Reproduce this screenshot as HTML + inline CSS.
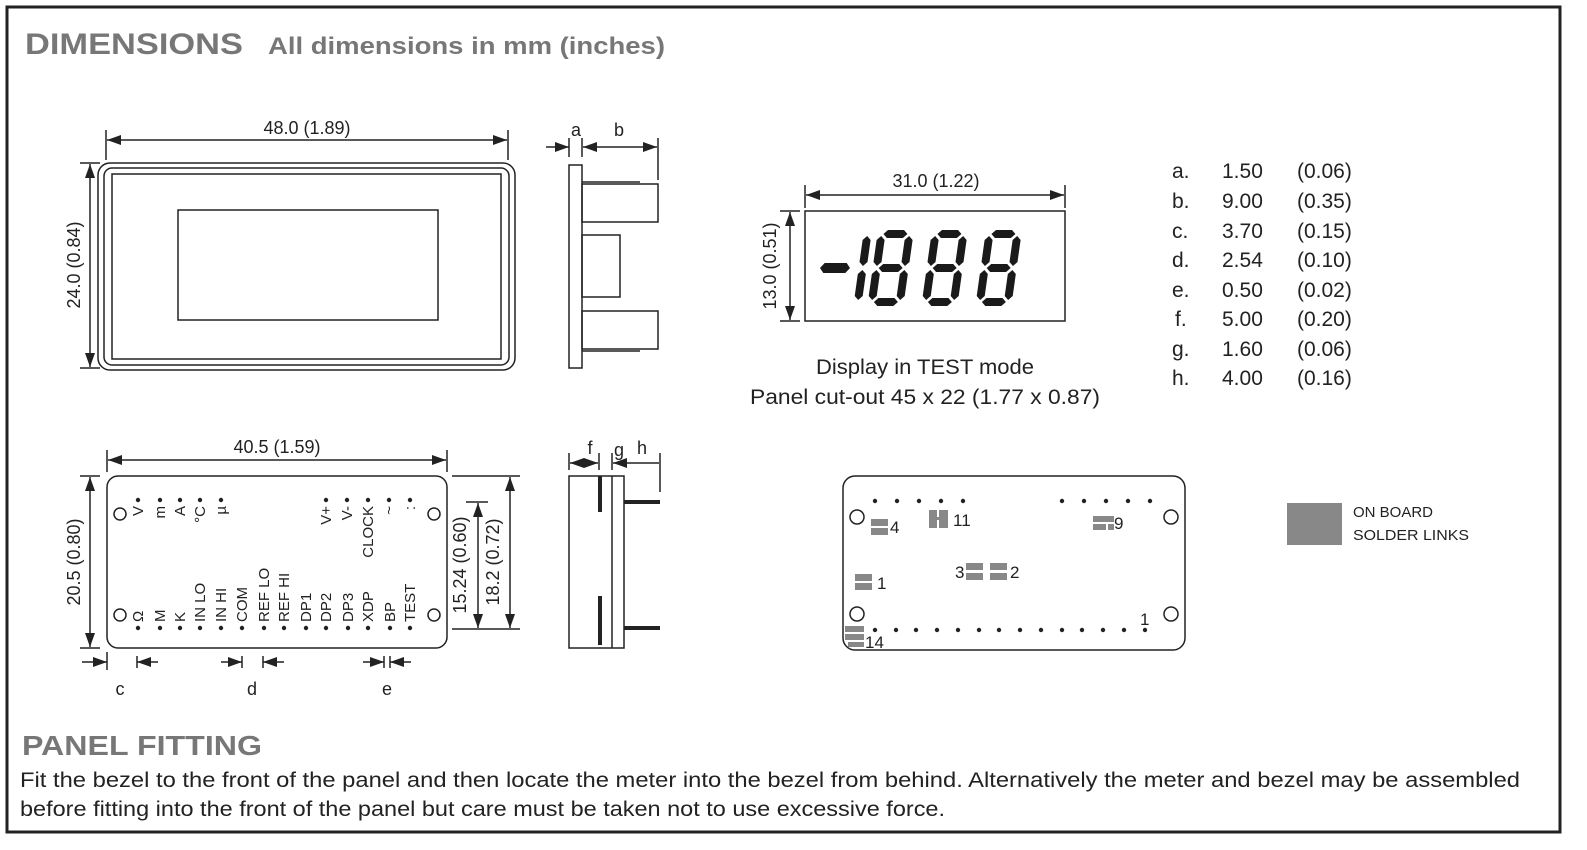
<!DOCTYPE html>
<html><head><meta charset="utf-8"><style>
body{margin:0;background:#fff;}
svg{display:block;}
text{font-family:"Liberation Sans",sans-serif;fill:#222;}
</style></head><body>
<svg width="1587" height="850" viewBox="0 0 1587 850" xmlns="http://www.w3.org/2000/svg">
<defs>
<marker id="ah" viewBox="0 0 14 10" refX="14" refY="5" markerWidth="14" markerHeight="10" markerUnits="userSpaceOnUse" orient="auto-start-reverse"><path d="M0,0 L14,5 L0,10 z" fill="#222"/></marker>
</defs>
<rect x="7" y="7" width="1553" height="825" fill="none" stroke="#222" stroke-width="3"/>
<text x="25" y="54" font-size="30" font-weight="bold" style="fill:#777" textLength="218" lengthAdjust="spacingAndGlyphs">DIMENSIONS</text>
<text x="268" y="54" font-size="24" font-weight="bold" style="fill:#777" textLength="397" lengthAdjust="spacingAndGlyphs">All dimensions in mm (inches)</text>

<g stroke="#222" fill="none" stroke-width="1.5">
<rect x="98" y="163" width="417" height="207" rx="12"/>
<rect x="104" y="168" width="405" height="197" rx="8"/>
<rect x="112" y="174" width="389" height="185"/>
<rect x="178" y="210" width="260" height="110"/>
<line x1="106" y1="130" x2="106" y2="160"/><line x1="508" y1="130" x2="508" y2="160"/>
<line x1="107" y1="140" x2="507" y2="140" marker-start="url(#ah)" marker-end="url(#ah)"/>
<line x1="80" y1="163" x2="100" y2="163"/><line x1="80" y1="368" x2="100" y2="368"/>
<line x1="90" y1="164" x2="90" y2="367" marker-start="url(#ah)" marker-end="url(#ah)"/>
<rect x="569" y="165" width="13" height="203"/>
<rect x="582" y="184" width="76" height="38"/>
<line x1="582" y1="182" x2="640" y2="182"/>
<rect x="582" y="235" width="38" height="62"/>
<rect x="582" y="311" width="76" height="38"/>
<line x1="582" y1="351" x2="640" y2="351"/>
<line x1="569" y1="138" x2="569" y2="157"/><line x1="582" y1="138" x2="582" y2="157"/><line x1="658" y1="138" x2="658" y2="180"/>
<line x1="546" y1="147" x2="569" y2="147" marker-end="url(#ah)"/>
<line x1="583" y1="147" x2="657" y2="147" marker-start="url(#ah)" marker-end="url(#ah)"/>
<rect x="805" y="211" width="260" height="110"/>
<line x1="805" y1="185" x2="805" y2="208"/><line x1="1065" y1="185" x2="1065" y2="208"/>
<line x1="806" y1="195" x2="1064" y2="195" marker-start="url(#ah)" marker-end="url(#ah)"/>
<line x1="780" y1="211" x2="800" y2="211"/><line x1="780" y1="321" x2="800" y2="321"/>
<line x1="790" y1="212" x2="790" y2="320" marker-start="url(#ah)" marker-end="url(#ah)"/>
<rect x="107" y="476" width="340" height="172" rx="11"/>
<line x1="107" y1="450" x2="107" y2="472"/><line x1="447" y1="450" x2="447" y2="472"/>
<line x1="108" y1="460" x2="446" y2="460" marker-start="url(#ah)" marker-end="url(#ah)"/>
<line x1="80" y1="476" x2="100" y2="476"/><line x1="80" y1="648" x2="100" y2="648"/>
<line x1="90" y1="477" x2="90" y2="647" marker-start="url(#ah)" marker-end="url(#ah)"/>
<line x1="452" y1="476" x2="520" y2="476"/><line x1="452" y1="629" x2="520" y2="629"/>
<line x1="466" y1="502" x2="488" y2="502"/>
<line x1="478" y1="503" x2="478" y2="628" marker-start="url(#ah)" marker-end="url(#ah)"/>
<line x1="510" y1="477" x2="510" y2="628" marker-start="url(#ah)" marker-end="url(#ah)"/>
<circle cx="120" cy="514" r="6"/><circle cx="434" cy="514" r="6"/>
<circle cx="120" cy="615" r="6"/><circle cx="434" cy="615" r="6"/>
<line x1="107" y1="652" x2="107" y2="670"/>
<line x1="82" y1="662" x2="107" y2="662" marker-end="url(#ah)"/>
<line x1="137" y1="656" x2="137" y2="668"/><line x1="137" y1="662" x2="158" y2="662" marker-start="url(#ah)"/>
<line x1="242" y1="656" x2="242" y2="668"/><line x1="221" y1="662" x2="242" y2="662" marker-end="url(#ah)"/>
<line x1="263" y1="656" x2="263" y2="668"/><line x1="263" y1="662" x2="284" y2="662" marker-start="url(#ah)"/>
<line x1="384" y1="656" x2="384" y2="668"/><line x1="363" y1="662" x2="384" y2="662" marker-end="url(#ah)"/>
<line x1="390" y1="656" x2="390" y2="668"/><line x1="390" y1="662" x2="411" y2="662" marker-start="url(#ah)"/>
<rect x="569" y="476" width="55" height="172"/>
<line x1="612" y1="476" x2="612" y2="648"/>
<line x1="569" y1="453" x2="569" y2="470"/><line x1="599" y1="453" x2="599" y2="470"/><line x1="612" y1="453" x2="612" y2="470"/><line x1="660" y1="453" x2="660" y2="492"/>
<line x1="570" y1="463" x2="598" y2="463" marker-start="url(#ah)" marker-end="url(#ah)"/>
<line x1="613" y1="463" x2="659" y2="463" marker-start="url(#ah)"/>
<rect x="843" y="476" width="342" height="174" rx="12"/>
<circle cx="857" cy="517" r="7"/><circle cx="1171" cy="517" r="7"/>
<circle cx="857" cy="614" r="7"/><circle cx="1171" cy="614" r="7"/>
</g>
<g stroke="#222" stroke-width="4">
<line x1="600" y1="476" x2="600" y2="512"/><line x1="600" y1="596" x2="600" y2="645"/>
<line x1="624" y1="502" x2="660" y2="502"/><line x1="624" y1="628" x2="660" y2="628"/>
</g>

<g font-size="18">
<text x="307" y="134" text-anchor="middle">48.0 (1.89)</text>
<text transform="translate(80,265) rotate(-90)" text-anchor="middle">24.0 (0.84)</text>
<text x="576" y="136" text-anchor="middle">a</text>
<text x="619" y="136" text-anchor="middle">b</text>
<text x="936" y="187" text-anchor="middle">31.0 (1.22)</text>
<text transform="translate(776,266) rotate(-90)" text-anchor="middle">13.0 (0.51)</text>
<text x="277" y="453" text-anchor="middle">40.5 (1.59)</text>
<text transform="translate(80,562) rotate(-90)" text-anchor="middle">20.5 (0.80)</text>
<text transform="translate(466,565) rotate(-90)" text-anchor="middle">15.24 (0.60)</text>
<text transform="translate(499,562) rotate(-90)" text-anchor="middle">18.2 (0.72)</text>
<text x="120" y="695" text-anchor="middle">c</text>
<text x="252" y="695" text-anchor="middle">d</text>
<text x="387" y="695" text-anchor="middle">e</text>
<text x="590" y="454" text-anchor="middle">f</text>
<text x="619" y="456" text-anchor="middle">g</text>
<text x="642" y="454" text-anchor="middle">h</text>
</g>
<g font-size="21">
<text x="816" y="374" textLength="218" lengthAdjust="spacingAndGlyphs">Display in TEST mode</text>
<text x="750" y="404" textLength="350" lengthAdjust="spacingAndGlyphs">Panel cut-out 45 x 22 (1.77 x 0.87)</text>
<text x="1172" y="178">a.</text><text x="1222" y="178">1.50</text><text x="1297" y="178">(0.06)</text>
<text x="1172" y="208">b.</text><text x="1222" y="208">9.00</text><text x="1297" y="208">(0.35)</text>
<text x="1172" y="238">c.</text><text x="1222" y="238">3.70</text><text x="1297" y="238">(0.15)</text>
<text x="1172" y="267">d.</text><text x="1222" y="267">2.54</text><text x="1297" y="267">(0.10)</text>
<text x="1172" y="297">e.</text><text x="1222" y="297">0.50</text><text x="1297" y="297">(0.02)</text>
<text x="1175" y="326">f.</text><text x="1222" y="326">5.00</text><text x="1297" y="326">(0.20)</text>
<text x="1172" y="356">g.</text><text x="1222" y="356">1.60</text><text x="1297" y="356">(0.06)</text>
<text x="1172" y="385">h.</text><text x="1222" y="385">4.00</text><text x="1297" y="385">(0.16)</text>
</g>

<g fill="#1a1a1a">
<polygon transform="translate(818,268) skewX(-8)" points="2,0 6,-5 28,-5 32,0 28,5 6,5"/>
<g transform="translate(836,230) skewX(-8)">
<polygon points="32,6 36,10 36,32 32,36 28,32 28,10"/><polygon points="32,40 36,44 36,66 32,70 28,66 28,44"/>
</g>
<g transform="translate(878,230) skewX(-8)">
<polygon points="6,4 10,0 26,0 30,4 26,8 10,8"/><polygon points="6,38 10,34 26,34 30,38 26,42 10,42"/><polygon points="6,72 10,68 26,68 30,72 26,76 10,76"/>
<polygon points="4,6 8,10 8,32 4,36 0,32 0,10"/><polygon points="4,40 8,44 8,66 4,70 0,66 0,44"/>
<polygon points="32,6 36,10 36,32 32,36 28,32 28,10"/><polygon points="32,40 36,44 36,66 32,70 28,66 28,44"/>
</g>
<g transform="translate(932,230) skewX(-8)">
<polygon points="6,4 10,0 26,0 30,4 26,8 10,8"/><polygon points="6,38 10,34 26,34 30,38 26,42 10,42"/><polygon points="6,72 10,68 26,68 30,72 26,76 10,76"/>
<polygon points="4,6 8,10 8,32 4,36 0,32 0,10"/><polygon points="4,40 8,44 8,66 4,70 0,66 0,44"/>
<polygon points="32,6 36,10 36,32 32,36 28,32 28,10"/><polygon points="32,40 36,44 36,66 32,70 28,66 28,44"/>
</g>
<g transform="translate(986,230) skewX(-8)">
<polygon points="6,4 10,0 26,0 30,4 26,8 10,8"/><polygon points="6,38 10,34 26,34 30,38 26,42 10,42"/><polygon points="6,72 10,68 26,68 30,72 26,76 10,76"/>
<polygon points="4,6 8,10 8,32 4,36 0,32 0,10"/><polygon points="4,40 8,44 8,66 4,70 0,66 0,44"/>
<polygon points="32,6 36,10 36,32 32,36 28,32 28,10"/><polygon points="32,40 36,44 36,66 32,70 28,66 28,44"/>
</g>
</g>

<g fill="#222">
<circle cx="138" cy="500" r="2.2"/><circle cx="160" cy="500" r="2.2"/><circle cx="180" cy="500" r="2.2"/><circle cx="200" cy="500" r="2.2"/><circle cx="221" cy="500" r="2.2"/>
<circle cx="326" cy="500" r="2.2"/><circle cx="347" cy="500" r="2.2"/><circle cx="368" cy="500" r="2.2"/><circle cx="389" cy="500" r="2.2"/><circle cx="410" cy="500" r="2.2"/>
<circle cx="138" cy="628" r="2.2"/><circle cx="160" cy="628" r="2.2"/><circle cx="180" cy="628" r="2.2"/><circle cx="200" cy="628" r="2.2"/><circle cx="221" cy="628" r="2.2"/><circle cx="242" cy="628" r="2.2"/><circle cx="264" cy="628" r="2.2"/><circle cx="284" cy="628" r="2.2"/><circle cx="306" cy="628" r="2.2"/><circle cx="326" cy="628" r="2.2"/><circle cx="348" cy="628" r="2.2"/><circle cx="368" cy="628" r="2.2"/><circle cx="390" cy="628" r="2.2"/><circle cx="410" cy="628" r="2.2"/>
</g>
<g font-size="15">
<text transform="translate(143,506) rotate(-90)" text-anchor="end">V</text>
<text transform="translate(165,506) rotate(-90)" text-anchor="end">m</text>
<text transform="translate(185,506) rotate(-90)" text-anchor="end">A</text>
<text transform="translate(205,506) rotate(-90)" text-anchor="end">°C</text>
<text transform="translate(226,506) rotate(-90)" text-anchor="end">µ</text>
<text transform="translate(331,506) rotate(-90)" text-anchor="end">V+</text>
<text transform="translate(352,506) rotate(-90)" text-anchor="end">V-</text>
<text transform="translate(373,506) rotate(-90)" text-anchor="end">CLOCK</text>
<text transform="translate(394,506) rotate(-90)" text-anchor="end">~</text>
<text transform="translate(415,506) rotate(-90)" text-anchor="end">:</text>
<text transform="translate(143,622) rotate(-90)">Ω</text>
<text transform="translate(165,622) rotate(-90)">M</text>
<text transform="translate(185,622) rotate(-90)">K</text>
<text transform="translate(205,622) rotate(-90)">IN LO</text>
<text transform="translate(226,622) rotate(-90)">IN HI</text>
<text transform="translate(247,622) rotate(-90)">COM</text>
<text transform="translate(269,622) rotate(-90)">REF LO</text>
<text transform="translate(289,622) rotate(-90)">REF HI</text>
<text transform="translate(311,622) rotate(-90)">DP1</text>
<text transform="translate(331,622) rotate(-90)">DP2</text>
<text transform="translate(353,622) rotate(-90)">DP3</text>
<text transform="translate(373,622) rotate(-90)">XDP</text>
<text transform="translate(395,622) rotate(-90)">BP</text>
<text transform="translate(415,622) rotate(-90)">TEST</text>
</g>

<g fill="#222">
<circle cx="875" cy="501" r="2.2"/><circle cx="897" cy="501" r="2.2"/><circle cx="919" cy="501" r="2.2"/><circle cx="941" cy="501" r="2.2"/><circle cx="963" cy="501" r="2.2"/>
<circle cx="1062" cy="501" r="2.2"/><circle cx="1084" cy="501" r="2.2"/><circle cx="1106" cy="501" r="2.2"/><circle cx="1128" cy="501" r="2.2"/><circle cx="1150" cy="501" r="2.2"/>
<circle cx="875" cy="630" r="2.2"/><circle cx="896" cy="630" r="2.2"/><circle cx="916" cy="630" r="2.2"/><circle cx="937" cy="630" r="2.2"/><circle cx="958" cy="630" r="2.2"/><circle cx="979" cy="630" r="2.2"/><circle cx="999" cy="630" r="2.2"/><circle cx="1020" cy="630" r="2.2"/><circle cx="1041" cy="630" r="2.2"/><circle cx="1062" cy="630" r="2.2"/><circle cx="1082" cy="630" r="2.2"/><circle cx="1103" cy="630" r="2.2"/><circle cx="1124" cy="630" r="2.2"/><circle cx="1145" cy="630" r="2.2"/>
</g>
<g fill="#888">
<rect x="871" y="519" width="17" height="7"/><rect x="871" y="528" width="17" height="7"/>
<rect x="929" y="510" width="8" height="18"/><rect x="939" y="510" width="9" height="18"/><rect x="936" y="517" width="4" height="3"/>
<rect x="1093" y="516" width="21" height="6"/><rect x="1093" y="524" width="13" height="6"/><rect x="1108" y="524" width="6" height="6"/>
<rect x="966" y="563" width="17" height="7"/><rect x="966" y="573" width="17" height="7"/>
<rect x="990" y="563" width="17" height="7"/><rect x="990" y="573" width="17" height="7"/>
<rect x="855" y="574" width="17" height="7"/><rect x="855" y="583" width="17" height="7"/>
<rect x="845" y="626" width="19" height="6"/><rect x="845" y="634" width="19" height="6"/><rect x="848" y="642" width="16" height="5"/>
<rect x="1287" y="503" width="55" height="42"/>
</g>
<g font-size="17">
<text x="890" y="533">4</text>
<text x="953" y="526">11</text>
<text x="1114" y="529">9</text>
<text x="955" y="578">3</text>
<text x="1010" y="578">2</text>
<text x="877" y="589">1</text>
<text x="865" y="648">14</text>
<text x="1140" y="625">1</text>
</g>
<text x="1353" y="517" font-size="15" textLength="80" lengthAdjust="spacingAndGlyphs">ON BOARD</text>
<text x="1353" y="540" font-size="15" textLength="116" lengthAdjust="spacingAndGlyphs">SOLDER LINKS</text>

<text x="22" y="755" font-size="28" font-weight="bold" style="fill:#777" textLength="240" lengthAdjust="spacingAndGlyphs">PANEL FITTING</text>
<text x="20" y="787" font-size="21" textLength="1500" lengthAdjust="spacingAndGlyphs">Fit the bezel to the front of the panel and then locate the meter into the bezel from behind.  Alternatively the meter and bezel may be assembled</text>
<text x="20" y="816" font-size="21" textLength="925" lengthAdjust="spacingAndGlyphs">before fitting into the front of the panel but care must be taken not to use excessive force.</text>
</svg>
</body></html>
